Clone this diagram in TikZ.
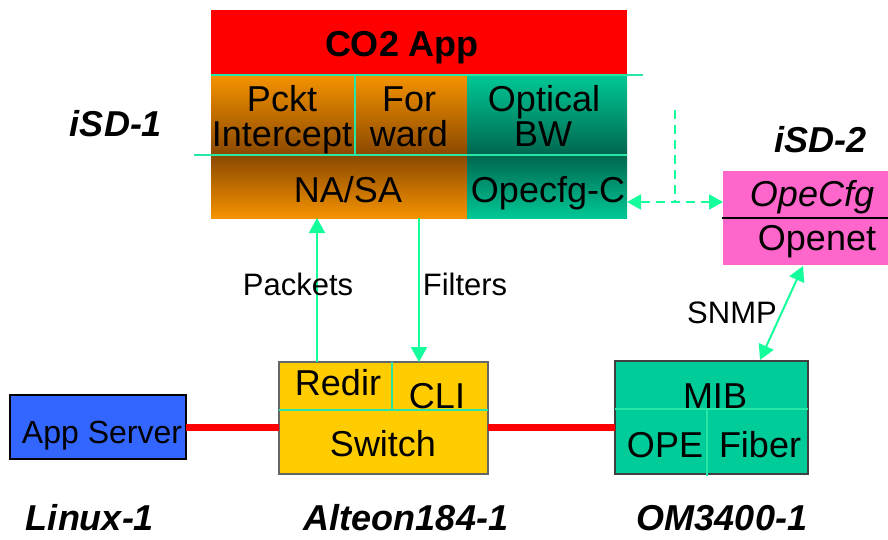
\documentclass[tikz,border=0pt]{standalone}
\usepackage{fontspec}
\setmainfont{Liberation Sans}
\usetikzlibrary{arrows.meta}

\definecolor{appred}{RGB}{255,0,0}
\definecolor{orng}{RGB}{245,147,0}
\definecolor{brwn}{RGB}{138,72,0}
\definecolor{tealL}{RGB}{0,200,150}
\definecolor{tealD}{RGB}{0,102,78}
\definecolor{mint}{RGB}{40,230,165}
\definecolor{arrowmint}{RGB}{20,255,155}
\definecolor{pinkbox}{RGB}{255,102,204}
\definecolor{srvblue}{RGB}{51,102,255}
\definecolor{swyellow}{RGB}{255,204,0}
\definecolor{omteal}{RGB}{0,204,153}

\begin{document}
\begin{tikzpicture}[x=1pt,y=-1pt,
  box/.style={rectangle, inner sep=0pt, outer sep=0pt, anchor=north west},
  txt/.style={inner sep=0pt, anchor=base, font=\fontsize{36}{36}\selectfont},
  lbl/.style={inner sep=0pt, anchor=base, font=\fontsize{31}{31}\selectfont},
  tag/.style={inner sep=0pt, anchor=base, font=\fontsize{36}{36}\selectfont\bfseries\itshape},
  divider/.style={draw=mint, line width=2pt},
  flow/.style={draw=arrowmint, line width=2pt, -{Triangle[length=15pt,width=16pt]}},
  dflow/.style={draw=arrowmint, line width=2pt, dash pattern=on 9pt off 6pt,
    {Triangle[length=14pt,width=15pt]}-{Triangle[length=14pt,width=15pt]}},
  link/.style={draw=appred, line width=7pt}
]
\useasboundingbox (0,0) rectangle (888,540);

% ---- iSD-1 stack ----
\node[box, fill=appred, minimum width=416pt, minimum height=65pt] (app) at (211,10) {};
\node[box, top color=orng, bottom color=brwn, minimum width=144pt, minimum height=80pt] (pckt) at (211,75) {};
\node[box, top color=orng, bottom color=brwn, minimum width=112pt, minimum height=80pt] (fwd) at (355,75) {};
\node[box, top color=tealL, bottom color=tealD, minimum width=160pt, minimum height=80pt] (optical) at (467,75) {};
\node[box, top color=brwn, bottom color=orng, minimum width=256pt, minimum height=63pt] (nasa) at (211,155) {};
\node[box, top color=tealD, bottom color=tealL, minimum width=160pt, minimum height=63pt] (opecfgc) at (467,155) {};

\draw[divider] (app.south west) -- ++(432,0);
\draw[divider] (nasa.north west) ++(-17,0) -- (opecfgc.north east);
\draw[divider] (pckt.north east) ++(0,-1) -- (pckt.south east);

\node[txt, font=\fontsize{36}{36}\selectfont\bfseries] (appT) at (402,57) {CO2 App};
\node[txt] (pcktA) at (282,112) {Pckt};
\node[txt] (pcktB) at (282,147) {Intercept};
\node[txt] (fwdA) at (409,112) {For};
\node[txt] (fwdB) at (409,147) {ward};
\node[txt] (optA) at (544,112) {Optical};
\node[txt] (optB) at (543,147) {BW};
\node[txt] (nasaT) at (348,202) {NA/SA};
\node[txt] (opecT) at (548,202) {Opecfg-C};

\node[tag] (isd1) at (116,137) {iSD-1};

% ---- iSD-2 ----
\node[box, fill=pinkbox, minimum width=165pt, minimum height=94pt] (pink) at (723,171) {};
\draw[black, line width=1.5pt] (pink.west |- 0,218) ++(-1,0) -- (pink.east |- 0,218);
\node[txt, font=\fontsize{36}{36}\selectfont\itshape] (opecfgT) at (812,207) {OpeCfg};
\node[txt] (openetT) at (817,250) {Openet};
\node[tag] (isd2) at (820,153) {iSD-2};

% dashed configuration link
\coordinate (cfgy) at (0,202);
\coordinate (tap) at (675,110);
\draw[dflow] (opecfgc.east |- cfgy) -- (pink.west |- cfgy);
\draw[draw=arrowmint, line width=2pt, dash pattern=on 9pt off 6pt] (tap) -- (tap |- cfgy);

% ---- devices ----
\node[box, fill=srvblue, draw=black, line width=1.5pt, minimum width=176pt, minimum height=64pt] (server) at (10,395) {};
\node[txt, font=\fontsize{32}{32}\selectfont] (serverT) at (102,443) {App Server};

\node[box, fill=swyellow, draw=black!60, line width=1.3pt, minimum width=209pt, minimum height=112pt] (switch) at (279,362) {};
\draw[divider] (switch.west |- 0,410) -- (switch.east |- 0,410);
\draw[divider] (392,362) -- (392,410);
\node[txt] (redirT) at (338,395) {Redir};
\node[txt] (cliT) at (437,408) {CLI};
\node[txt] (switchT) at (383,456) {Switch};

\node[box, fill=omteal, draw=black!75, line width=1.3pt, minimum width=193pt, minimum height=113pt] (om) at (615,361) {};
\draw[divider] (om.west |- 0,409) -- (om.east |- 0,409);
\draw[divider] (707,409) -- (707,476);
\node[txt] (mibT) at (715,408) {MIB};
\node[txt] (opeT) at (665,457) {OPE};
\node[txt] (fiberT) at (760,457) {Fiber};

% red data links
\coordinate (liny) at (0,427);
\draw[link] (server.east |- liny) -- (switch.west |- liny);
\draw[link] (switch.east |- liny) -- (om.west |- liny);

% packet / filter flows
\coordinate (pk) at (317,0);
\coordinate (fl) at (419,0);
\draw[flow] (pk |- switch.north) -- (pk |- nasa.south);
\draw[flow] (fl |- nasa.south) -- (fl |- switch.north);
\node[lbl] (packetsT) at (298,295) {Packets};
\node[lbl] (filtersT) at (465,295) {Filters};

% SNMP link
\coordinate (snmpTop) at (803,266);
\coordinate (snmpBot) at (760,360);
\draw[flow, {Triangle[length=15pt,width=16pt]}-{Triangle[length=15pt,width=16pt]}] (snmpBot) -- (snmpTop);
\node[lbl] (snmpT) at (732,323) {SNMP};

% device names
\node[tag] (linuxT) at (90,530) {Linux-1};
\node[tag] (alteonT) at (406,530) {Alteon184-1};
\node[tag] (omT) at (722,530) {OM3400-1};
\end{tikzpicture}
\end{document}
